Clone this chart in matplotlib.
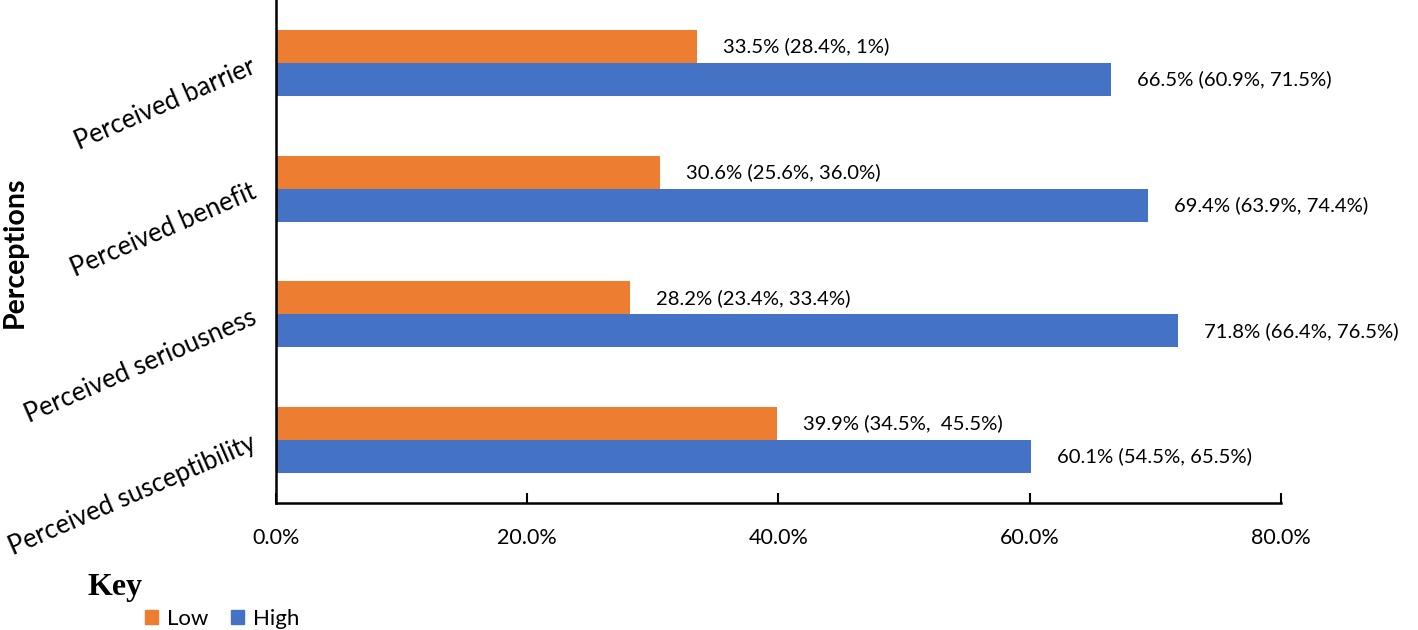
import matplotlib.pyplot as plt
import numpy as np
from matplotlib.patches import Patch

plt.rcParams['font.family'] = ['Lato', 'DejaVu Sans']

categories = ['Perceived susceptibility', 'Perceived seriousness',
              'Perceived benefit', 'Perceived barrier']
low = [39.9, 28.2, 30.6, 33.5]
high = [60.1, 71.8, 69.4, 66.5]
low_labels = ['39.9% (34.5%,  45.5%)', '28.2% (23.4%, 33.4%)',
              '30.6% (25.6%, 36.0%)', '33.5% (28.4%, 1%)']
high_labels = ['60.1% (54.5%, 65.5%)', '71.8% (66.4%, 76.5%)',
               '69.4% (63.9%, 74.4%)', '66.5% (60.9%, 71.5%)']

orange = '#ED7D31'
blue = '#4472C4'

fig = plt.figure(figsize=(14.18, 6.3), dpi=100)
ax = fig.add_axes([0.1946, 0.2016, 0.7088, 0.7984])

y = np.arange(len(categories))
h = 0.262
ax.barh(y + h / 2, low, height=h, color=orange)
ax.barh(y - h / 2, high, height=h, color=blue)

for i in range(len(categories)):
    ax.annotate(low_labels[i], (low[i], y[i] + h / 2), xytext=(26, 0),
                textcoords='offset pixels', va='center', ha='left', fontsize=14.6)
    ax.annotate(high_labels[i], (high[i], y[i] - h / 2), xytext=(26, 0),
                textcoords='offset pixels', va='center', ha='left', fontsize=14.6)

ax.set_xlim(0, 80)
ax.set_ylim(-0.5, 3.5)
ax.set_xticks([0, 20, 40, 60, 80])
ax.set_xticklabels(['0.0%', '20.0%', '40.0%', '60.0%', '80.0%'], fontsize=15.5)
ax.tick_params(axis='x', direction='in', length=7, width=1.5, pad=18)
ax.set_yticks(y)
ax.set_yticklabels(categories, fontsize=18.5, rotation=23.5, ha='right',
                   rotation_mode='anchor')
ax.tick_params(axis='y', length=0, pad=16)

for s in ['top', 'right']:
    ax.spines[s].set_visible(False)
ax.spines['left'].set_linewidth(1.8)
ax.spines['bottom'].set_linewidth(1.8)

fig.text(0.0105, 0.60, 'Perceptions', rotation=90, fontsize=20.5,
         fontweight='bold', va='center', ha='center')

fig.text(0.062, 0.068, 'Key', fontsize=23, fontweight='bold',
         family='Liberation Serif', va='center', ha='left')
handles = [Patch(color=orange, label='Low'), Patch(color=blue, label='High')]
fig.legend(handles=handles, ncol=2, frameon=False, fontsize=16,
           loc='center left', bbox_to_anchor=(0.088, 0.018),
           handlelength=0.6, handleheight=0.6, handletextpad=0.4,
           columnspacing=1.0)

fig.savefig('out.png', dpi=100)
